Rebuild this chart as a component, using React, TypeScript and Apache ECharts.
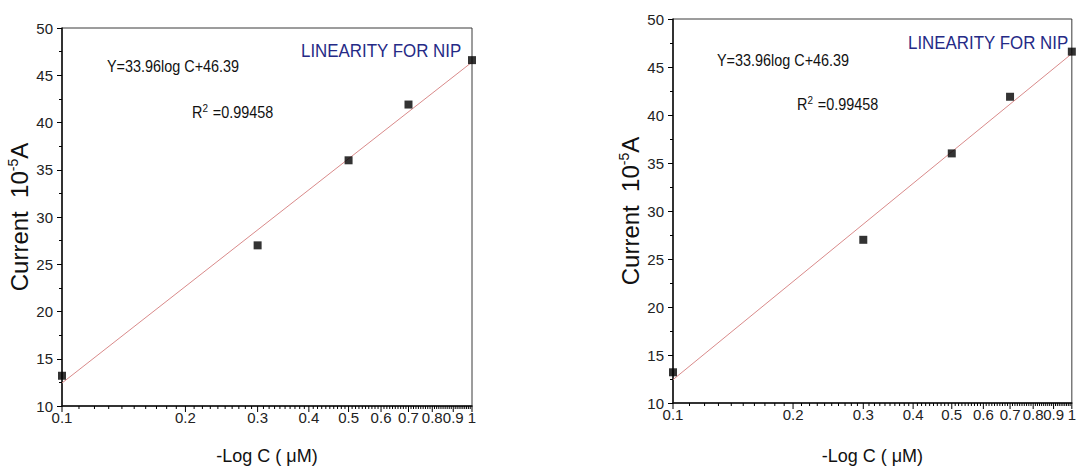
import React, { useEffect, useRef } from "react";
import * as echarts from "echarts";

// ---- data ----
const concentrations = [0.1, 0.3, 0.5, 0.7, 1];
const currents = [13.2, 27.0, 36.0, 41.9, 46.6];
const fitX = [0.1, 1];
const fitY = [12.43, 46.39];

const xTickValues = [0.1, 0.2, 0.3, 0.4, 0.5, 0.6, 0.7, 0.8, 0.9, 1];
const xTickLabels = ["0.1", "0.2", "0.3", "0.4", "0.5", "0.6", "0.7", "0.8", "0.9", "1"];
const yMin = 10;
const yMax = 50;
const yStep = 5;

const equationText = "Y=33.96log C+46.39";
const r2Text = "R{sup|2} =0.99458";
const titleText = "LINEARITY FOR NIP";
const xAxisTitle = "-Log C ( μM)";
const yAxisTitle = "Current  10{sup|-5}A";

// minor tick positions on the log axis: every 0.01 between the labelled ticks
const minorTickValues: number[] = [];
for (let d = 1; d < 10; d++) {
  for (let k = 1; k < 10; k++) {
    minorTickValues.push((d * 10 + k) / 100);
  }
}

const FONT = "Liberation Sans, Arial, Helvetica, sans-serif";

const panels = [
  { left: 62, top: 28, width: 410, height: 384, eq: [107, 66], r2: [192, 112], ttl: [301, 51], yName: 22 },
  { left: 673, top: 19, width: 403, height: 390, eq: [717, 60], r2: [797, 104], ttl: [908, 43], yName: 633 },
];

// tick marks below the log x axis, placed through the axis scale
function tickSeries(gridIdx: number, values: number[], length: number, name: string) {
  return {
    type: "custom",
    name,
    xAxisIndex: gridIdx,
    yAxisIndex: gridIdx,
    silent: true,
    clip: false,
    z: 5,
    data: values.map((v) => [v, yMin]),
    renderItem: (_params: any, api: any) => {
      const pt = api.coord([api.value(0), api.value(1)]);
      return {
        type: "line",
        shape: { x1: pt[0], y1: pt[1], x2: pt[0], y2: pt[1] + length },
        style: { stroke: "#000", lineWidth: 1 },
      };
    },
  };
}

function buildOption() {
  const grid: any[] = [];
  const xAxis: any[] = [];
  const yAxis: any[] = [];
  const series: any[] = [];
  const graphic: any[] = [];

  panels.forEach((p, i) => {
    grid.push({
      left: p.left,
      top: p.top,
      width: p.width,
      height: p.height,
      show: true,
      borderColor: "#3a3a3a",
      borderWidth: 1,
      backgroundColor: "transparent",
      containLabel: false,
    });
    const bottom = p.top + p.height;
    xAxis.push({
      type: "log",
      logBase: 10,
      gridIndex: i,
      position: "bottom",
      min: 0.1,
      max: 1,
      name: xAxisTitle,
      nameLocation: "middle",
      nameGap: 451 - bottom,
      nameTextStyle: { fontFamily: FONT, fontSize: 18, color: "#111", lineHeight: 21 },
      axisLine: { show: true, onZero: false, lineStyle: { color: "#111", width: 1.5 } },
      axisTick: { show: false },
      axisLabel: {
        show: true,
        customValues: xTickValues,
        margin: 4,
        fontFamily: FONT,
        fontSize: 15,
        color: "#222",
        formatter: (v: number) => {
          const idx = xTickValues.findIndex((t) => Math.abs(t - v) < 1e-9);
          return idx >= 0 ? xTickLabels[idx] : String(v);
        },
      },
      splitLine: { show: false },
      minorTick: { show: false },
    });

    yAxis.push({
      type: "value",
      gridIndex: i,
      position: "left",
      min: yMin,
      max: yMax,
      interval: yStep,
      name: yAxisTitle,
      nameLocation: "middle",
      nameGap: p.left - p.yName - 13,
      nameTextStyle: {
        fontFamily: FONT,
        fontSize: 24,
        color: "#111",
        lineHeight: 26,
        rich: { sup: { fontFamily: FONT, fontSize: 14, color: "#111", verticalAlign: "top", lineHeight: 26, padding: [0, 0, 10, 0] } },
      },
      axisLine: { show: true, onZero: false, lineStyle: { color: "#111", width: 1.5 } },
      axisTick: { show: true, length: 5, lineStyle: { color: "#000", width: 1 } },
      minorTick: { show: true, splitNumber: 2, length: 3, lineStyle: { color: "#000", width: 1 } },
      axisLabel: { margin: 9, fontFamily: FONT, fontSize: 15, color: "#222" },
      splitLine: { show: false },
    });

    series.push({
      type: "line",
      name: "Fit " + (i + 1),
      xAxisIndex: i,
      yAxisIndex: i,
      data: fitX.map((x, k) => [x, fitY[k]]),
      showSymbol: false,
      symbol: "none",
      lineStyle: { color: "#d98a8a", width: 1 },
      z: 2,
    });
    series.push({
      type: "scatter",
      name: "Current " + (i + 1),
      xAxisIndex: i,
      yAxisIndex: i,
      data: concentrations.map((x, k) => [x, currents[k]]),
      symbol: "rect",
      symbolSize: 8,
      itemStyle: { color: "#000" },
      z: 3,
    });
    series.push(tickSeries(i, xTickValues, 6, "major ticks " + (i + 1)));
    series.push(tickSeries(i, minorTickValues, 3, "minor ticks " + (i + 1)));

    graphic.push({
      type: "text",
      x: p.eq[0],
      y: p.eq[1],
      scaleX: 0.9,
      style: { text: equationText, font: `16px ${FONT}`, fill: "#111", verticalAlign: "middle", align: "left" },
    });
    graphic.push({
      type: "text",
      x: p.r2[0],
      y: p.r2[1],
      scaleX: 0.9,
      style: {
        text: r2Text,
        font: `16px ${FONT}`,
        fill: "#111",
        verticalAlign: "middle",
        align: "left",
        rich: { sup: { font: `11px ${FONT}`, fill: "#111", verticalAlign: "top", padding: [0, 1, 8, 0] } },
      },
    });
    graphic.push({
      type: "text",
      x: p.ttl[0],
      y: p.ttl[1],
      scaleX: 0.89,
      style: { text: titleText, font: `19px ${FONT}`, fill: "#252a86", verticalAlign: "middle", align: "left" },
    });
  });

  return {
    animation: false,
    backgroundColor: "#ffffff",
    grid,
    xAxis,
    yAxis,
    series,
    graphic,
  };
}

export default function App() {
  const ref = useRef<HTMLDivElement>(null);
  useEffect(() => {
    if (!ref.current) return;
    const chart = echarts.init(ref.current, undefined, { renderer: "svg" });
    chart.setOption(buildOption() as any);
    return () => chart.dispose();
  }, []);
  return (
    <div
      ref={ref}
      style={{ position: "fixed", left: 0, top: 0, width: 1079, height: 471, background: "#fff" }}
    />
  );
}
